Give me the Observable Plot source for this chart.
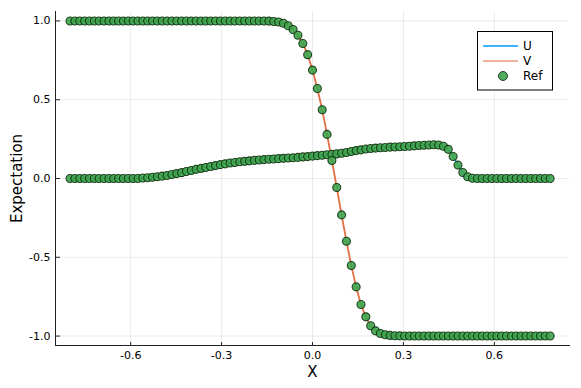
<!DOCTYPE html>
<html><head><meta charset="utf-8">
<script src="https://cdn.jsdelivr.net/npm/d3@7"></script>
<script src="https://cdn.jsdelivr.net/npm/@observablehq/plot@0.6"></script>
<style>body{margin:0;background:#fff}</style>
</head><body><div id="chart"></div>
<script>
const xs = [
-0.800,-0.784,-0.768,-0.752,-0.736,-0.720,-0.704,-0.688,-0.672,-0.656,
-0.640,-0.624,-0.608,-0.592,-0.576,-0.560,-0.544,-0.528,-0.512,-0.496,
-0.480,-0.464,-0.448,-0.432,-0.416,-0.400,-0.384,-0.368,-0.352,-0.336,
-0.320,-0.304,-0.288,-0.272,-0.256,-0.240,-0.224,-0.208,-0.192,-0.176,
-0.160,-0.144,-0.128,-0.112,-0.096,-0.080,-0.064,-0.048,-0.032,-0.016,
0.000,0.016,0.032,0.048,0.064,0.080,0.096,0.112,0.128,0.144,
0.160,0.176,0.192,0.208,0.224,0.240,0.256,0.272,0.288,0.304,
0.320,0.336,0.352,0.368,0.384,0.400,0.416,0.432,0.448,0.464,
0.480,0.496,0.512,0.528,0.544,0.560,0.576,0.592,0.608,0.624,
0.640,0.656,0.672,0.688,0.704,0.720,0.736,0.752,0.768,0.784];

const U = [
0,0,0,0,0,0,0,0,0,0,
0,0,0,0,0,0.003,0.005,0.008,0.011,0.015,
0.019,0.025,0.031,0.037,0.044,0.051,0.058,0.064,0.070,0.076,
0.082,0.088,0.093,0.098,0.102,0.106,0.109,0.112,0.115,0.117,
0.120,0.122,0.124,0.126,0.128,0.130,0.132,0.134,0.137,0.139,
0.142,0.145,0.148,0.151,0.153,0.156,0.160,0.165,0.171,0.177,
0.182,0.187,0.190,0.193,0.195,0.197,0.199,0.200,0.202,0.203,
0.205,0.207,0.209,0.211,0.213,0.214,0.213,0.205,0.185,0.140,
0.085,0.038,0.011,0.002,0,0,0,0,0,0,
0,0,0,0,0,0,0,0,0,0];

const V = [
1,1,1,1,1,1,1,1,1,1,
1,1,1,1,1,1,1,1,1,1,
1,1,1,1,1,1,1,1,1,1,
1,1,1,1,1,1,1,1,1,1,
1.000,0.999,0.997,0.993,0.985,0.970,0.946,0.909,0.857,0.786,
0.688,0.571,0.436,0.280,0.114,-0.057,-0.231,-0.398,-0.552,-0.688,
-0.800,-0.878,-0.935,-0.967,-0.984,-0.992,-0.996,-0.998,-0.999,-1,
-1,-1,-1,-1,-1,-1,-1,-1,-1,-1,
-1,-1,-1,-1,-1,-1,-1,-1,-1,-1,
-1,-1,-1,-1,-1,-1,-1,-1,-1,-1];

const refU = U.slice();
const refV = V.slice();

const xTicks = [-0.6, -0.3, 0.0, 0.3, 0.6];
const yTicks = [-1.0, -0.5, 0.0, 0.5, 1.0];
const seriesNames = ["U", "V", "Ref"];
const seriesColors = ["#009AFA", "#E26F46", "#3DA44D"];

const data = xs.map((x, i) => ({x, u: U[i], v: V[i], ru: refU[i], rv: refV[i]}));
const fmt = d => d.toFixed(1);

const W = 581, H = 388, mL = 55, mR = 12, mT = 11, mB = 43;
const pw = W - mL - mR, ph = H - mT - mB;

const dotStyle = {r: 4, fill: seriesColors[2], fillOpacity: 0.9, stroke: "#0b2a0b", strokeOpacity: 0.85, strokeWidth: 1.1};

const chart = Plot.plot({
  width: W, height: H,
  marginLeft: mL, marginRight: mR, marginTop: mT, marginBottom: mB,
  style: {fontFamily: "DejaVu Sans", fontSize: "11px", color: "#000", background: "#fff"},
  x: {domain: [-0.848, 0.848]},
  y: {domain: [-1.06, 1.06]},
  marks: [
    Plot.ruleX(xTicks, {stroke: "#000", strokeOpacity: 0.1, strokeWidth: 0.8}),
    Plot.ruleY(yTicks, {stroke: "#000", strokeOpacity: 0.1, strokeWidth: 0.8}),
    Plot.frame({anchor: "left", stroke: "#222"}),
    Plot.frame({anchor: "bottom", stroke: "#222"}),
    Plot.tickX(xTicks, {stroke: "#222", insetTop: ph - 3}),
    Plot.tickY(yTicks, {stroke: "#222", insetRight: pw - 5}),
    Plot.axisX({ticks: xTicks, tickSize: 0, tickPadding: 6, tickFormat: fmt, label: null, fontSize: 11}),
    Plot.axisY({ticks: yTicks, tickSize: 0, tickPadding: 5, tickFormat: fmt, label: null, fontSize: 11}),
    Plot.text(["X"], {frameAnchor: "bottom", dy: 27, fontSize: 15, textAnchor: "middle", lineAnchor: "middle"}),
    Plot.text(["Expectation"], {frameAnchor: "left", dx: -38, rotate: -90, fontSize: 15, textAnchor: "middle", lineAnchor: "middle"}),
    Plot.line(data, {x: "x", y: "u", stroke: seriesColors[0], strokeWidth: 1.5}),
    Plot.line(data, {x: "x", y: "v", stroke: seriesColors[1], strokeWidth: 1.8}),
    Plot.dot(data, {x: "x", y: "ru", ...dotStyle}),
    Plot.dot(data, {x: "x", y: "rv", ...dotStyle})
  ]
});

document.getElementById("chart").appendChild(chart);

// legend inside the plot area (top-right)
const svg = d3.select(chart);
const lg = svg.append("g").attr("font-family", "DejaVu Sans").attr("font-size", 12).attr("text-anchor", "start");
lg.append("rect").attr("x", 477.5).attr("y", 31.5).attr("width", 75).attr("height", 58.5)
  .attr("fill", "#fff").attr("stroke", "#000").attr("stroke-width", 1);
const rowsY = [46, 61, 76];
seriesNames.forEach((name, i) => {
  const y = rowsY[i];
  if (i < 2) {
    lg.append("line").attr("x1", 483).attr("x2", 518).attr("y1", y).attr("y2", y)
      .attr("stroke", seriesColors[i]).attr("stroke-width", 1.5).attr("stroke-opacity", i === 1 ? 0.7 : 1);
  } else {
    lg.append("circle").attr("cx", 503).attr("cy", y).attr("r", 4.5)
      .attr("fill", seriesColors[i]).attr("fill-opacity", 0.9).attr("stroke", "#0b2a0b").attr("stroke-opacity", 0.85);
  }
  lg.append("text").attr("x", 523).attr("y", y).attr("dy", "0.35em").attr("text-anchor", "start").text(name);
});
</script>
</body></html>
